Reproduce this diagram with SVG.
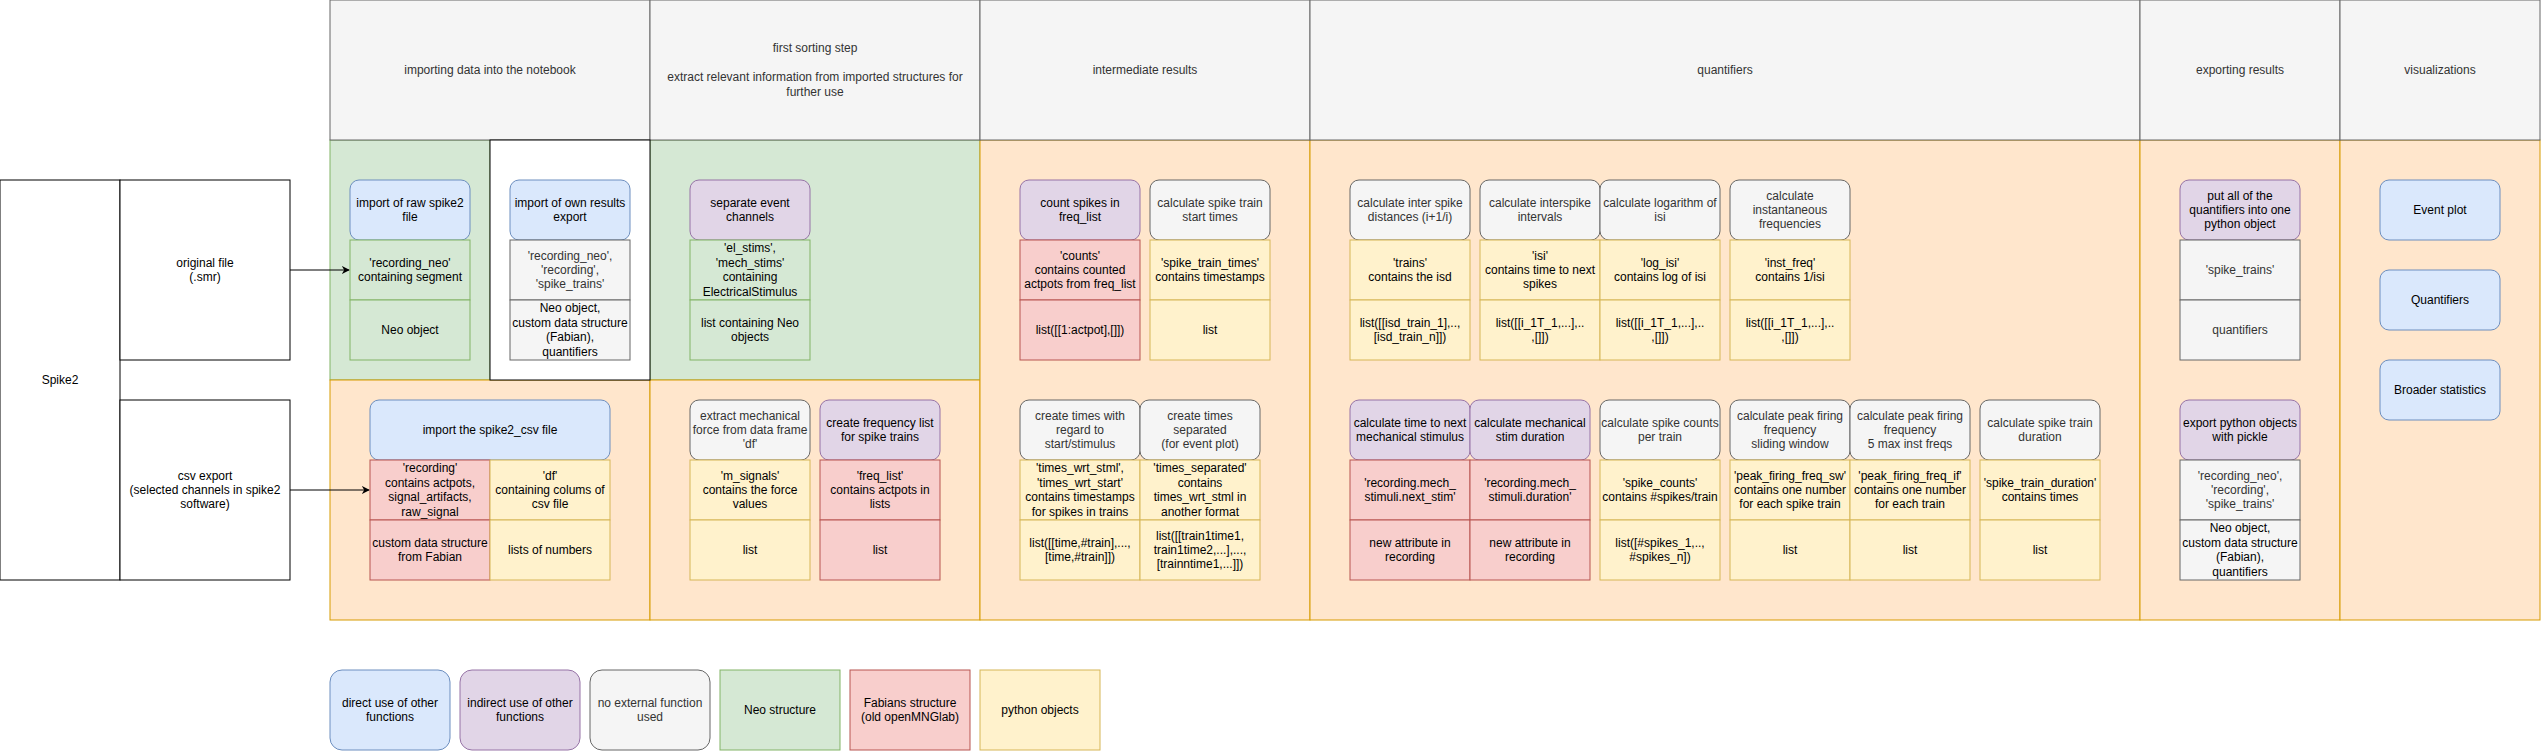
<svg xmlns="http://www.w3.org/2000/svg" width="2542" height="751" viewBox="0 0 2542 751">
<style>
text{font-family:"Liberation Sans",Arial,Helvetica,sans-serif;font-size:12px;text-anchor:middle;dominant-baseline:central;fill:#000}
.g{fill:#333333}
.hd{fill:#f5f5f5;stroke:#666666}
.or{fill:#ffe6cc;stroke:#d79b00}
.gr{fill:#d5e8d4;stroke:#82b366}
.bl{fill:#dae8fc;stroke:#6c8ebf}
.pu{fill:#e1d5e7;stroke:#9673a6}
.rd{fill:#f8cecc;stroke:#b85450}
.ye{fill:#fff2cc;stroke:#d6b656}
.gy{fill:#f5f5f5;stroke:#666666}
.wh{fill:#ffffff;stroke:#000000}
rect{stroke-width:1}
</style>
<defs>
<marker id="arr" viewBox="0 0 10 10" refX="9" refY="5" markerWidth="8" markerHeight="8" orient="auto" markerUnits="userSpaceOnUse"><path d="M0,0 L10,5 L0,10 L3,5 Z" fill="#000"/></marker>
</defs>
<rect width="2542" height="751" fill="#ffffff"/>

<g id="lanes">
<rect class="gr" x="330" y="140" width="160" height="240"/>
<rect class="or" x="330" y="380" width="320" height="240"/>
<rect class="gr" x="650" y="140" width="330" height="240"/>
<rect class="or" x="650" y="380" width="330" height="240"/>
<rect class="or" x="980" y="140" width="330" height="480"/>
<rect class="or" x="1310" y="140" width="830" height="480"/>
<rect class="or" x="2140" y="140" width="200" height="480"/>
<rect class="or" x="2340" y="140" width="200" height="480"/>
<rect class="hd" x="330" y="0" width="320" height="140"/>
<text class="g" x="490" y="70">importing data into the notebook</text>
<rect class="hd" x="650" y="0" width="330" height="140"/>
<text class="g" x="815"><tspan x="815" y="48.4">first sorting step</tspan><tspan x="815" y="77.2">extract relevant information from imported structures for</tspan><tspan x="815" y="91.6">further use</tspan></text>
<rect class="hd" x="980" y="0" width="330" height="140"/>
<text class="g" x="1145" y="70">intermediate results</text>
<rect class="hd" x="1310" y="0" width="830" height="140"/>
<text class="g" x="1725" y="70">quantifiers</text>
<rect class="hd" x="2140" y="0" width="200" height="140"/>
<text class="g" x="2240" y="70">exporting results</text>
<rect class="hd" x="2340" y="0" width="200" height="140"/>
<text class="g" x="2440" y="70">visualizations</text>
<rect class="wh" x="490" y="140" width="160" height="240"/>
</g>

<g id="spike2">
<rect class="wh" x="0" y="180" width="120" height="400"/>
<text x="60" y="380">Spike2</text>
</g>
<g id="original_file">
<rect class="wh" x="120" y="180" width="170" height="180"/>
<text x="205"><tspan x="205" y="262.8">original file</tspan><tspan x="205" y="277.2">(.smr)</tspan></text>
</g>
<g id="csv_export">
<rect class="wh" x="120" y="400" width="170" height="180"/>
<text x="205"><tspan x="205" y="475.6">csv export</tspan><tspan x="205" y="490">(selected channels in spike2</tspan><tspan x="205" y="504.4">software)</tspan></text>
</g>

<g id="n_import_raw">
<rect class="bl" x="350" y="180" width="120" height="60" rx="9"/>
<rect class="gr" x="350" y="240" width="120" height="60"/>
<rect class="gr" x="350" y="300" width="120" height="60"/>
<text><tspan x="410" y="202.8">import of raw spike2</tspan><tspan x="410" y="217.2">file</tspan></text>
<text><tspan x="410" y="262.8">'recording_neo'</tspan><tspan x="410" y="277.2">containing segment</tspan></text>
<text x="410" y="330">Neo object</text>
</g>

<g id="n_import_own">
<rect class="bl" x="510" y="180" width="120" height="60" rx="9"/>
<rect class="gy" x="510" y="240" width="120" height="60"/>
<rect class="gy" x="510" y="300" width="120" height="60"/>
<text><tspan x="570" y="202.8">import of own results</tspan><tspan x="570" y="217.2">export</tspan></text>
<text class="g"><tspan x="570" y="255.6">'recording_neo',</tspan><tspan x="570" y="270">'recording',</tspan><tspan x="570" y="284.4">'spike_trains'</tspan></text>
<text><tspan x="570" y="308.4">Neo object,</tspan><tspan x="570" y="322.8">custom data structure</tspan><tspan x="570" y="337.2">(Fabian),</tspan><tspan x="570" y="351.6">quantifiers</tspan></text>
</g>

<g id="n_import_csv">
<rect class="bl" x="370" y="400" width="240" height="60" rx="9"/>
<rect class="rd" x="370" y="460" width="120" height="60"/>
<rect class="ye" x="490" y="460" width="120" height="60"/>
<rect class="rd" x="370" y="520" width="120" height="60"/>
<rect class="ye" x="490" y="520" width="120" height="60"/>
<text x="490" y="430">import the spike2_csv file</text>
<text><tspan x="430" y="468.4">'recording'</tspan><tspan x="430" y="482.8">contains actpots,</tspan><tspan x="430" y="497.2">signal_artifacts,</tspan><tspan x="430" y="511.6">raw_signal</tspan></text>
<text><tspan x="550" y="475.6">'df'</tspan><tspan x="550" y="490">containing colums of</tspan><tspan x="550" y="504.4">csv file</tspan></text>
<text><tspan x="430" y="542.8">custom data structure</tspan><tspan x="430" y="557.2">from Fabian</tspan></text>
<text x="550" y="550">lists of numbers</text>
</g>

<g id="n_separate">
<rect class="pu" x="690" y="180" width="120" height="60" rx="9"/>
<rect class="gr" x="690" y="240" width="120" height="60"/>
<rect class="gr" x="690" y="300" width="120" height="60"/>
<text><tspan x="750" y="202.8">separate event</tspan><tspan x="750" y="217.2">channels</tspan></text>
<text><tspan x="750" y="248.4">'el_stims',</tspan><tspan x="750" y="262.8">'mech_stims'</tspan><tspan x="750" y="277.2">containing</tspan><tspan x="750" y="291.6">ElectricalStimulus</tspan></text>
<text><tspan x="750" y="322.8">list containing Neo</tspan><tspan x="750" y="337.2">objects</tspan></text>
</g>

<g id="n_extract_mech">
<rect class="gy" x="690" y="400" width="120" height="60" rx="9"/>
<rect class="ye" x="690" y="460" width="120" height="60"/>
<rect class="ye" x="690" y="520" width="120" height="60"/>
<text class="g"><tspan x="750" y="415.6">extract mechanical</tspan><tspan x="750" y="430">force from data frame</tspan><tspan x="750" y="444.4">'df'</tspan></text>
<text><tspan x="750" y="475.6">'m_signals'</tspan><tspan x="750" y="490">contains the force</tspan><tspan x="750" y="504.4">values</tspan></text>
<text x="750" y="550">list</text>
</g>

<g id="n_freq_list">
<rect class="pu" x="820" y="400" width="120" height="60" rx="9"/>
<rect class="rd" x="820" y="460" width="120" height="60"/>
<rect class="rd" x="820" y="520" width="120" height="60"/>
<text><tspan x="880" y="422.8">create frequency list</tspan><tspan x="880" y="437.2">for spike trains</tspan></text>
<text><tspan x="880" y="475.6">'freq_list'</tspan><tspan x="880" y="490">contains actpots in</tspan><tspan x="880" y="504.4">lists</tspan></text>
<text x="880" y="550">list</text>
</g>

<g id="n_count">
<rect class="pu" x="1020" y="180" width="120" height="60" rx="9"/>
<rect class="rd" x="1020" y="240" width="120" height="60"/>
<rect class="rd" x="1020" y="300" width="120" height="60"/>
<text><tspan x="1080" y="202.8">count spikes in</tspan><tspan x="1080" y="217.2">freq_list</tspan></text>
<text><tspan x="1080" y="255.6">'counts'</tspan><tspan x="1080" y="270">contains counted</tspan><tspan x="1080" y="284.4">actpots from freq_list</tspan></text>
<text x="1080" y="330">list([[1:actpot],[]])</text>
</g>

<g id="n_start_times">
<rect class="gy" x="1150" y="180" width="120" height="60" rx="9"/>
<rect class="ye" x="1150" y="240" width="120" height="60"/>
<rect class="ye" x="1150" y="300" width="120" height="60"/>
<text class="g"><tspan x="1210" y="202.8">calculate spike train</tspan><tspan x="1210" y="217.2">start times</tspan></text>
<text><tspan x="1210" y="262.8">'spike_train_times'</tspan><tspan x="1210" y="277.2">contains timestamps</tspan></text>
<text x="1210" y="330">list</text>
</g>

<g id="n_times_wrt">
<rect class="gy" x="1020" y="400" width="120" height="60" rx="9"/>
<rect class="ye" x="1020" y="460" width="120" height="60"/>
<rect class="ye" x="1020" y="520" width="120" height="60"/>
<text class="g"><tspan x="1080" y="415.6">create times with</tspan><tspan x="1080" y="430">regard to</tspan><tspan x="1080" y="444.4">start/stimulus</tspan></text>
<text><tspan x="1080" y="468.4">'times_wrt_stml',</tspan><tspan x="1080" y="482.8">'times_wrt_start'</tspan><tspan x="1080" y="497.2">contains timestamps</tspan><tspan x="1080" y="511.6">for spikes in trains</tspan></text>
<text><tspan x="1080" y="542.8">list([[time,#train],...,</tspan><tspan x="1080" y="557.2">[time,#train]])</tspan></text>
</g>

<g id="n_times_sep">
<rect class="gy" x="1140" y="400" width="120" height="60" rx="9"/>
<rect class="ye" x="1140" y="460" width="120" height="60"/>
<rect class="ye" x="1140" y="520" width="120" height="60"/>
<text class="g"><tspan x="1200" y="415.6">create times</tspan><tspan x="1200" y="430">separated</tspan><tspan x="1200" y="444.4">(for event plot)</tspan></text>
<text><tspan x="1200" y="468.4">'times_separated'</tspan><tspan x="1200" y="482.8">contains</tspan><tspan x="1200" y="497.2">times_wrt_stml in</tspan><tspan x="1200" y="511.6">another format</tspan></text>
<text><tspan x="1200" y="535.6">list([[train1time1,</tspan><tspan x="1200" y="550">train1time2,...],...,</tspan><tspan x="1200" y="564.4">[trainntime1,...]])</tspan></text>
</g>

<g id="n_isd">
<rect class="gy" x="1350" y="180" width="120" height="60" rx="9"/>
<rect class="ye" x="1350" y="240" width="120" height="60"/>
<rect class="ye" x="1350" y="300" width="120" height="60"/>
<text class="g"><tspan x="1410" y="202.8">calculate inter spike</tspan><tspan x="1410" y="217.2">distances (i+1/i)</tspan></text>
<text><tspan x="1410" y="262.8">'trains'</tspan><tspan x="1410" y="277.2">contains the isd</tspan></text>
<text><tspan x="1410" y="322.8">list([[isd_train_1],..,</tspan><tspan x="1410" y="337.2">[isd_train_n]])</tspan></text>
</g>

<g id="n_isi">
<rect class="gy" x="1480" y="180" width="120" height="60" rx="9"/>
<rect class="ye" x="1480" y="240" width="120" height="60"/>
<rect class="ye" x="1480" y="300" width="120" height="60"/>
<text class="g"><tspan x="1540" y="202.8">calculate interspike</tspan><tspan x="1540" y="217.2">intervals</tspan></text>
<text><tspan x="1540" y="255.6">'isi'</tspan><tspan x="1540" y="270">contains time to next</tspan><tspan x="1540" y="284.4">spikes</tspan></text>
<text><tspan x="1540" y="322.8">list([[i_1T_1,...],..</tspan><tspan x="1540" y="337.2">,[]])</tspan></text>
</g>

<g id="n_log_isi">
<rect class="gy" x="1600" y="180" width="120" height="60" rx="9"/>
<rect class="ye" x="1600" y="240" width="120" height="60"/>
<rect class="ye" x="1600" y="300" width="120" height="60"/>
<text class="g"><tspan x="1660" y="202.8">calculate logarithm of</tspan><tspan x="1660" y="217.2">isi</tspan></text>
<text><tspan x="1660" y="262.8">'log_isi'</tspan><tspan x="1660" y="277.2">contains log of isi</tspan></text>
<text><tspan x="1660" y="322.8">list([[i_1T_1,...],..</tspan><tspan x="1660" y="337.2">,[]])</tspan></text>
</g>

<g id="n_inst_freq">
<rect class="gy" x="1730" y="180" width="120" height="60" rx="9"/>
<rect class="ye" x="1730" y="240" width="120" height="60"/>
<rect class="ye" x="1730" y="300" width="120" height="60"/>
<text class="g"><tspan x="1790" y="195.6">calculate</tspan><tspan x="1790" y="210">instantaneous</tspan><tspan x="1790" y="224.4">frequencies</tspan></text>
<text><tspan x="1790" y="262.8">'inst_freq'</tspan><tspan x="1790" y="277.2">contains 1/isi</tspan></text>
<text><tspan x="1790" y="322.8">list([[i_1T_1,...],..</tspan><tspan x="1790" y="337.2">,[]])</tspan></text>
</g>

<g id="n_next_stim">
<rect class="pu" x="1350" y="400" width="120" height="60" rx="9"/>
<rect class="rd" x="1350" y="460" width="120" height="60"/>
<rect class="rd" x="1350" y="520" width="120" height="60"/>
<text><tspan x="1410" y="422.8">calculate time to next</tspan><tspan x="1410" y="437.2">mechanical stimulus</tspan></text>
<text><tspan x="1410" y="482.8">'recording.mech_</tspan><tspan x="1410" y="497.2">stimuli.next_stim'</tspan></text>
<text><tspan x="1410" y="542.8">new attribute in</tspan><tspan x="1410" y="557.2">recording</tspan></text>
</g>

<g id="n_stim_dur">
<rect class="pu" x="1470" y="400" width="120" height="60" rx="9"/>
<rect class="rd" x="1470" y="460" width="120" height="60"/>
<rect class="rd" x="1470" y="520" width="120" height="60"/>
<text><tspan x="1530" y="422.8">calculate mechanical</tspan><tspan x="1530" y="437.2">stim duration</tspan></text>
<text><tspan x="1530" y="482.8">'recording.mech_</tspan><tspan x="1530" y="497.2">stimuli.duration'</tspan></text>
<text><tspan x="1530" y="542.8">new attribute in</tspan><tspan x="1530" y="557.2">recording</tspan></text>
</g>

<g id="n_spike_counts">
<rect class="gy" x="1600" y="400" width="120" height="60" rx="9"/>
<rect class="ye" x="1600" y="460" width="120" height="60"/>
<rect class="ye" x="1600" y="520" width="120" height="60"/>
<text class="g"><tspan x="1660" y="422.8">calculate spike counts</tspan><tspan x="1660" y="437.2">per train</tspan></text>
<text><tspan x="1660" y="482.8">'spike_counts'</tspan><tspan x="1660" y="497.2">contains #spikes/train</tspan></text>
<text><tspan x="1660" y="542.8">list([#spikes_1,..,</tspan><tspan x="1660" y="557.2">#spikes_n])</tspan></text>
</g>

<g id="n_peak_sw">
<rect class="gy" x="1730" y="400" width="120" height="60" rx="9"/>
<rect class="ye" x="1730" y="460" width="120" height="60"/>
<rect class="ye" x="1730" y="520" width="120" height="60"/>
<text class="g"><tspan x="1790" y="415.6">calculate peak firing</tspan><tspan x="1790" y="430">frequency</tspan><tspan x="1790" y="444.4">sliding window</tspan></text>
<text><tspan x="1790" y="475.6">'peak_firing_freq_sw'</tspan><tspan x="1790" y="490">contains one number</tspan><tspan x="1790" y="504.4">for each spike train</tspan></text>
<text x="1790" y="550">list</text>
</g>

<g id="n_peak_if">
<rect class="gy" x="1850" y="400" width="120" height="60" rx="9"/>
<rect class="ye" x="1850" y="460" width="120" height="60"/>
<rect class="ye" x="1850" y="520" width="120" height="60"/>
<text class="g"><tspan x="1910" y="415.6">calculate peak firing</tspan><tspan x="1910" y="430">frequency</tspan><tspan x="1910" y="444.4">5 max inst freqs</tspan></text>
<text><tspan x="1910" y="475.6">'peak_firing_freq_if'</tspan><tspan x="1910" y="490">contains one number</tspan><tspan x="1910" y="504.4">for each train</tspan></text>
<text x="1910" y="550">list</text>
</g>

<g id="n_duration">
<rect class="gy" x="1980" y="400" width="120" height="60" rx="9"/>
<rect class="ye" x="1980" y="460" width="120" height="60"/>
<rect class="ye" x="1980" y="520" width="120" height="60"/>
<text class="g"><tspan x="2040" y="422.8">calculate spike train</tspan><tspan x="2040" y="437.2">duration</tspan></text>
<text><tspan x="2040" y="482.8">'spike_train_duration'</tspan><tspan x="2040" y="497.2">contains times</tspan></text>
<text x="2040" y="550">list</text>
</g>

<g id="n_put_all">
<rect class="pu" x="2180" y="180" width="120" height="60" rx="9"/>
<rect class="gy" x="2180" y="240" width="120" height="60"/>
<rect class="gy" x="2180" y="300" width="120" height="60"/>
<text><tspan x="2240" y="195.6">put all of the</tspan><tspan x="2240" y="210">quantifiers into one</tspan><tspan x="2240" y="224.4">python object</tspan></text>
<text class="g" x="2240" y="270">'spike_trains'</text>
<text class="g" x="2240" y="330">quantifiers</text>
</g>

<g id="n_export">
<rect class="pu" x="2180" y="400" width="120" height="60" rx="9"/>
<rect class="gy" x="2180" y="460" width="120" height="60"/>
<rect class="gy" x="2180" y="520" width="120" height="60"/>
<text><tspan x="2240" y="422.8">export python objects</tspan><tspan x="2240" y="437.2">with pickle</tspan></text>
<text class="g"><tspan x="2240" y="475.6">'recording_neo',</tspan><tspan x="2240" y="490">'recording',</tspan><tspan x="2240" y="504.4">'spike_trains'</tspan></text>
<text><tspan x="2240" y="528.4">Neo object,</tspan><tspan x="2240" y="542.8">custom data structure</tspan><tspan x="2240" y="557.2">(Fabian),</tspan><tspan x="2240" y="571.6">quantifiers</tspan></text>
</g>

<g id="n_event_plot">
<rect class="bl" x="2380" y="180" width="120" height="60" rx="9"/>
<text x="2440" y="210">Event plot</text>
</g>
<g id="n_quantifiers">
<rect class="bl" x="2380" y="270" width="120" height="60" rx="9"/>
<text x="2440" y="300">Quantifiers</text>
</g>
<g id="n_broader">
<rect class="bl" x="2380" y="360" width="120" height="60" rx="9"/>
<text x="2440" y="390">Broader statistics</text>
</g>

<g id="connectors" fill="none" stroke="#000" stroke-width="1">
<line x1="290" y1="270" x2="349" y2="270" marker-end="url(#arr)"/>
<line x1="290" y1="490" x2="369" y2="490" marker-end="url(#arr)"/>
</g>

<g id="legend">
<g id="lg_direct"><rect class="bl" x="330" y="670" width="120" height="80" rx="12"/><text><tspan x="390" y="702.8">direct use of other</tspan><tspan x="390" y="717.2">functions</tspan></text></g>
<g id="lg_indirect"><rect class="pu" x="460" y="670" width="120" height="80" rx="12"/><text><tspan x="520" y="702.8">indirect use of other</tspan><tspan x="520" y="717.2">functions</tspan></text></g>
<g id="lg_none"><rect class="gy" x="590" y="670" width="120" height="80" rx="12"/><text class="g"><tspan x="650" y="702.8">no external function</tspan><tspan x="650" y="717.2">used</tspan></text></g>
<g id="lg_neo"><rect class="gr" x="720" y="670" width="120" height="80"/><text x="780" y="710">Neo structure</text></g>
<g id="lg_fabian"><rect class="rd" x="850" y="670" width="120" height="80"/><text><tspan x="910" y="702.8">Fabians structure</tspan><tspan x="910" y="717.2">(old openMNGlab)</tspan></text></g>
<g id="lg_python"><rect class="ye" x="980" y="670" width="120" height="80"/><text x="1040" y="710">python objects</text></g>
</g>
</svg>
